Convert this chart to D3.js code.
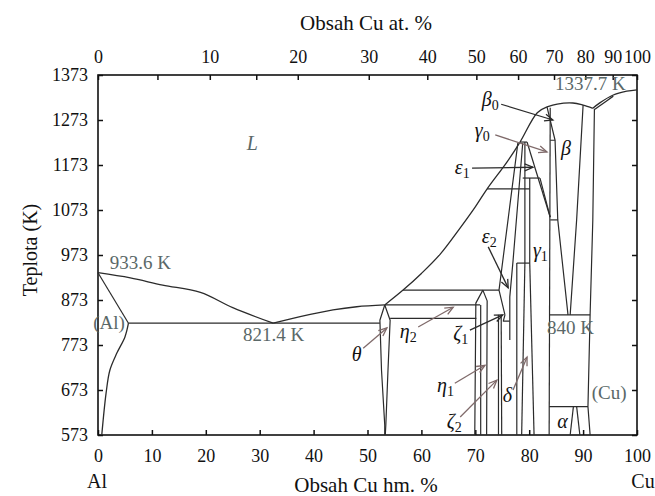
<!DOCTYPE html>
<html>
<head>
<meta charset="utf-8">
<script src="https://cdn.jsdelivr.net/npm/d3@7"></script>
</head>
<body style="margin:0;background:#fff">
<script>
// axis values
var wtTicks = [0, 10, 20, 30, 40, 50, 60, 70, 80, 90, 100];
var tempTicks = [573, 673, 773, 873, 973, 1073, 1173, 1273, 1373];
var atLabels = [0, 10, 20, 30, 40, 50, 60, 70, 80, 90, 100];
var atMinor = [5, 15];
var massAl = 26.98, massCu = 63.546;

// phase boundaries, [wt% Cu, K]
var liquidusAl = [[0, 933.6], [6, 922], [12, 906], [19, 890], [25, 856], [32.5, 821.4]];
var liquidusTheta = [[32.5, 821.4], [37.5, 836], [43.6, 851], [48, 858], [53.2, 862]];
var liquidusMid = [[53.2, 862], [56.6, 895], [60, 932], [63.5, 975], [67, 1030], [70, 1080], [72.2, 1120], [75.9, 1180], [78.3, 1224], [81.5, 1289], [83.3, 1302]];
var liquidusBeta = [[83.3, 1302], [85.2, 1308.5], [88.1, 1310.8], [90, 1306], [91.8, 1299]];
var liquidusCu = [[91.8, 1299], [93.1, 1311], [95.5, 1328], [98.1, 1337], [100, 1340]];
var solidusCu = [[92.2, 1297], [93.5, 1308], [95.6, 1326]];
var solidusAl = [[0, 933.6], [5.65, 821.4]];
var solvusAl = [[5.65, 821.4], [5.0, 791], [3.5, 755], [2.2, 717], [1.5, 666], [0.7, 573]];
var eutecticLine = [[5.65, 821.4], [52.3, 821.4]];
var thetaLeft = [[53.2, 862], [52.3, 828], [52.6, 717], [53.2, 595], [53.2, 573]];
var thetaRight = [[53.2, 862], [54.2, 828], [53.8, 717], [53.4, 595], [53.3, 573]];
var line895 = [[56.6, 895], [74.4, 895]];
var line862 = [[53.2, 862], [70.9, 862]];
var line832 = [[54.2, 832], [70.2, 832]];
var etaLeft = [[69.9, 573], [70.1, 866], [71.4, 895]];
var etaRight = [[71.4, 895], [72.2, 871], [72.1, 573]];
var etaInner = [[71.0, 862], [71.0, 573]];
var eps2Left = [[77.9, 1222], [74.4, 895], [75.5, 840]];
var eps2Right = [[78.8, 1222], [77.0, 960], [76.4, 880], [76.4, 784]];
var zetaA = [[74.3, 840], [74.3, 573]];
var zetaB = [[74.8, 840], [74.9, 573]];
var zeta1Box = [[75.5, 840], [75.2, 826], [76.4, 826]];
var gamma0Top = [[78.3, 1224], [79.6, 1224]];
var gamma0Right = [[79.6, 1224], [83.9, 1057]];
var eps1Line = [[72.2, 1120], [80.1, 1120]];
var eps1Box = [[78.8, 1144], [82.0, 1144]];
var eps1Right = [[82.0, 1144], [83.9, 1057]];
var gamma0Left = [[79.2, 1224], [79.2, 955]];
var gamma1Upper = [[80.1, 1144], [80.1, 955]];
var gamma1Top = [[77.7, 955], [80.1, 955]];
var deltaL = [[77.7, 955], [77.7, 573]];
var deltaR = [[79.2, 955], [78.6, 573]];
var gamma1L = [[80.1, 955], [80.9, 573]];
var gamma1R = [[83.9, 1300], [83.7, 573]];
var beta0 = [[83.3, 1302], [84.8, 1228], [83.9, 1228]];
var betaLeft = [[84.8, 1228], [85.3, 1051], [87.2, 840]];
var betaStep = [[83.9, 1051], [85.3, 1051]];
var betaRight = [[90.0, 1306], [88.8, 1051], [87.6, 840]];
var eutectoid = [[83.7, 840], [91.3, 840]];
var cuSolvus = [[92.1, 1298], [91.8, 1050], [91.3, 840], [90.9, 636], [91.3, 573]];
var alpha2Top = [[83.7, 636], [90.9, 636]];
var alpha2L = [[88.2, 636], [87.6, 573]];
var alpha2R = [[88.8, 636], [89.4, 573]];

var smoothLines = [liquidusAl, liquidusTheta, liquidusMid, liquidusBeta, liquidusCu, solidusCu, solvusAl];
var straightLines = [solidusAl, eutecticLine, thetaLeft, thetaRight, line895, line862, line832,
  etaLeft, etaRight, etaInner, eps2Left, eps2Right, zetaA, zetaB, zeta1Box, gamma0Top, gamma0Right,
  eps1Line, eps1Box, eps1Right, gamma0Left, gamma1Upper, gamma1Top, deltaL, deltaR, gamma1L, gamma1R,
  beta0, betaLeft, betaStep, betaRight, eutectoid, cuSolvus, alpha2Top, alpha2L, alpha2R];

// phase names: [letter, subscript, wt, K]
var phaseNames = [
  ["β", "0", 71.2, 1304], ["γ", "0", 69.9, 1235], ["ε", "1", 66.2, 1153], ["β", "", 85.9, 1195],
  ["ε", "2", 71.2, 1000], ["γ", "1", 80.7, 968], ["η", "2", 56.0, 788], ["ζ", "1", 65.9, 784],
  ["θ", "", 47.1, 737], ["η", "1", 62.9, 668], ["ζ", "2", 64.7, 588], ["δ", "", 75.1, 646], ["α", "", 85.2, 588]
];
// grey notes: [text, wt, K]
var notes = [
  ["933.6 K", 2.2, 942], ["(Al)", -0.9, 808], ["821.4 K", 26.9, 782], ["840 K", 83.3, 797],
  ["(Cu)", 91.6, 653], ["1337.7 K", 84.8, 1339]
];
// arrows: [wt1, K1, wt2, K2, dark]
var arrows = [
  [74.8, 1308, 84.4, 1273, 1], [73.7, 1240, 83.3, 1202, 0], [69.4, 1166, 80.7, 1168, 1],
  [72.4, 991, 76.1, 900, 1], [59.4, 813, 65.9, 857, 0], [69.0, 806, 75.1, 840, 1],
  [49.2, 766, 53.6, 811, 0], [66.2, 688, 71.8, 728, 0], [67.2, 613, 74.0, 695, 0],
  [77.0, 673, 79.6, 746, 0]
];

var width = 655, height = 496;
var margin = {top: 75, right: 18, bottom: 61, left: 98};
var serif = "'Liberation Serif'";

var svg = d3.select("body").append("svg")
  .attr("width", width)
  .attr("height", height);

var x = d3.scaleLinear().domain([0, 100]).range([margin.left, width - margin.right]);
var y = d3.scaleLinear().domain([573, 1373]).range([height - margin.bottom, margin.top]);

// at.% -> wt.%
function atToWt(a) {
  return 100 * a * massCu / (a * massCu + (100 - a) * massAl);
}

var lineColor = "#2b2b2b";

// bottom axis
svg.append("g")
  .attr("class", "x axis")
  .attr("transform", "translate(0," + y(573) + ")")
  .call(d3.axisBottom(x).tickValues(wtTicks).tickSizeInner(-5).tickSizeOuter(0).tickPadding(14)
    .tickFormat(d3.format("d")));

// left axis
svg.append("g")
  .attr("class", "y axis")
  .attr("transform", "translate(" + x(0) + ",0)")
  .call(d3.axisLeft(y).tickValues(tempTicks).tickSizeInner(-5).tickSizeOuter(0).tickPadding(10)
    .tickFormat(d3.format("d")));

// right axis, ticks only
svg.append("g")
  .attr("class", "y2 axis")
  .attr("transform", "translate(" + x(100) + ",0)")
  .call(d3.axisRight(y).tickValues(tempTicks).tickSizeInner(-5).tickSizeOuter(0).tickFormat(""));

// top axis, at.% labels
var topValues = atLabels.concat(atMinor).map(atToWt);
var topText = atLabels.map(String).concat(atMinor.map(function() { return ""; }));
svg.append("g")
  .attr("class", "top axis")
  .attr("transform", "translate(0," + y(1373) + ")")
  .call(d3.axisTop(x).tickValues(topValues).tickSizeInner(-5).tickSizeOuter(0).tickPadding(12)
    .tickFormat(function(d, i) { return topText[i]; }));

svg.selectAll(".axis .domain").remove();
svg.selectAll(".axis text")
  .attr("font-size", 18)
  .attr("fill", "#111");
svg.selectAll(".axis line").attr("stroke", "#111").attr("stroke-width", 1.5);

// frame
svg.append("rect")
  .attr("x", x(0)).attr("y", y(1373))
  .attr("width", x(100) - x(0)).attr("height", y(573) - y(1373))
  .attr("fill", "none").attr("stroke", "#111").attr("stroke-width", 1.6);

// phase boundaries
var smooth = d3.line()
  .x(function(d) { return x(d[0]); })
  .y(function(d) { return y(d[1]); })
  .curve(d3.curveCatmullRom);
var straight = d3.line()
  .x(function(d) { return x(d[0]); })
  .y(function(d) { return y(d[1]); });

svg.append("g").selectAll("path.smooth")
  .data(smoothLines).enter().append("path")
  .attr("class", "smooth")
  .attr("d", smooth)
  .attr("fill", "none").attr("stroke", lineColor).attr("stroke-width", 1.3);

svg.append("g").selectAll("path.straight")
  .data(straightLines).enter().append("path")
  .attr("class", "straight")
  .attr("d", straight)
  .attr("fill", "none").attr("stroke", lineColor).attr("stroke-width", 1.2)
  .attr("stroke-linejoin", "round");

// arrows
var arrowG = svg.append("g");
arrows.forEach(function(a) {
  var x1 = x(a[0]), y1 = y(a[1]), x2 = x(a[2]), y2 = y(a[3]);
  var col = a[4] ? "#2b2b2b" : "#7f6a6a";
  var ang = Math.atan2(y2 - y1, x2 - x1);
  var h = 9, spread = 0.4;
  arrowG.append("line")
    .attr("x1", x1).attr("y1", y1).attr("x2", x2).attr("y2", y2)
    .attr("stroke", col).attr("stroke-width", 1.3);
  arrowG.append("path")
    .attr("d", "M" + (x2 - h * Math.cos(ang - spread)) + "," + (y2 - h * Math.sin(ang - spread)) +
      "L" + x2 + "," + y2 +
      "L" + (x2 - h * Math.cos(ang + spread)) + "," + (y2 - h * Math.sin(ang + spread)))
    .attr("fill", "none").attr("stroke", col).attr("stroke-width", 1.3);
});

// phase names
var names = svg.append("g").selectAll("text")
  .data(phaseNames).enter().append("text")
  .attr("x", function(d) { return x(d[2]); })
  .attr("y", function(d) { return y(d[3]); })
  .attr("font-size", 20)
  .attr("fill", "#111");
names.append("tspan")
  .attr("font-style", "italic")
  .text(function(d) { return d[0]; });
names.append("tspan")
  .attr("font-size", 14)
  .attr("dy", 4)
  .text(function(d) { return d[1]; });

// grey notes
svg.append("g").selectAll("text")
  .data(notes).enter().append("text")
  .attr("x", function(d) { return x(d[1]); })
  .attr("y", function(d) { return y(d[2]); })
  .attr("font-size", 19)
  .attr("fill", "#5a6868")
  .text(function(d) { return d[0]; });

svg.append("text")
  .attr("x", x(27.6)).attr("y", y(1206))
  .attr("font-size", 20).attr("font-style", "italic")
  .attr("fill", "#5a6868")
  .text("L");

// axis titles
svg.append("text")
  .attr("x", 366).attr("y", 30)
  .attr("text-anchor", "middle").attr("font-size", 21).attr("fill", "#111")
  .text("Obsah Cu at. %");
svg.append("text")
  .attr("x", 366).attr("y", 492)
  .attr("text-anchor", "middle").attr("font-size", 21).attr("fill", "#111")
  .text("Obsah Cu hm. %");
svg.append("text")
  .attr("transform", "translate(37,250) rotate(-90)")
  .attr("text-anchor", "middle").attr("font-size", 20).attr("fill", "#111")
  .text("Teplota (K)");
svg.append("text")
  .attr("x", 97).attr("y", 488)
  .attr("text-anchor", "middle").attr("font-size", 20).attr("fill", "#111")
  .text("Al");
svg.append("text")
  .attr("x", 643).attr("y", 488)
  .attr("text-anchor", "middle").attr("font-size", 20).attr("fill", "#111")
  .text("Cu");

// serif everywhere
svg.selectAll("text").style("font-family", serif);
svg.selectAll(".axis").attr("font-family", null);
</script>
</body>
</html>
